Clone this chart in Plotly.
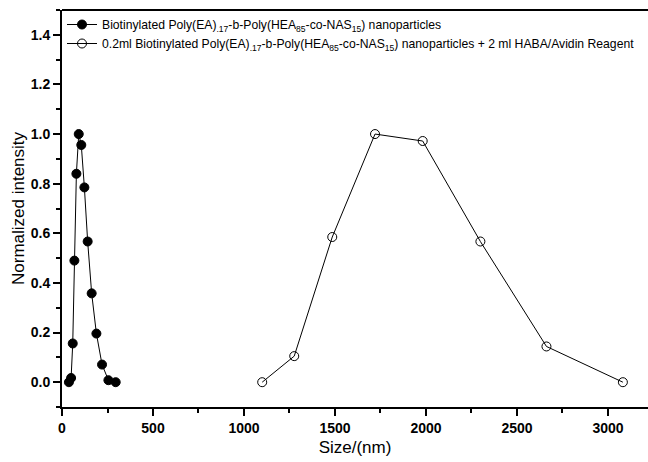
import plotly.graph_objects as go

# Filled series: Biotinylated nanoparticles
size_np = [38, 50, 59, 68, 79, 92, 106, 123, 141, 163, 189, 220, 255, 295]
int_np = [0.0, 0.017, 0.156, 0.49, 0.84, 1.0, 0.956, 0.785, 0.567, 0.358, 0.196, 0.071, 0.008, 0.0]

# Open series: nanoparticles + HABA/Avidin reagent
size_av = [1100, 1276, 1485, 1720, 1982, 2299, 2662, 3082]
int_av = [0.0, 0.105, 0.585, 1.0, 0.972, 0.567, 0.144, 0.0]

name_np = "Biotinylated Poly(EA)<sub>.17</sub>-b-Poly(HEA<sub>85</sub>-co-NAS<sub>15</sub>) nanoparticles"
name_av = ("0.2ml Biotinylated Poly(EA)<sub>.17</sub>-b-Poly(HEA<sub>85</sub>-co-NAS<sub>15</sub>) "
           "nanoparticles + 2 ml HABA/Avidin Reagent")

FONT = "Arial, Liberation Sans, sans-serif"

fig = go.Figure()
fig.add_trace(go.Scatter(
    x=size_np, y=int_np, mode="lines+markers", name=name_np,
    line=dict(color="black", width=1),
    marker=dict(symbol="circle", size=9, color="black", line=dict(color="black", width=1)),
))
fig.add_trace(go.Scatter(
    x=size_av, y=int_av, mode="lines+markers", name=name_av,
    line=dict(color="black", width=1),
    marker=dict(symbol="circle-open", size=9, color="black", line=dict(color="black", width=1)),
))

# top frame line only (no right border, as in the reference)
fig.add_shape(type="line", xref="paper", yref="paper", x0=0, x1=1, y0=1, y1=1,
              line=dict(color="black", width=2))

fig.update_layout(
    width=648, height=462,
    margin=dict(l=62, r=0, t=10, b=55, autoexpand=False),
    paper_bgcolor="white", plot_bgcolor="white",
    font=dict(family=FONT, color="black"),
    showlegend=True,
    legend=dict(x=0.0, y=1.0, xanchor="left", yanchor="top",
                bgcolor="rgba(0,0,0,0)", font=dict(size=12.2, family=FONT),
                tracegroupgap=0, itemwidth=30),
    xaxis=dict(
        range=[0, 3220], showgrid=False, zeroline=False,
        showline=True, linecolor="black", linewidth=2, mirror=False,
        ticks="outside", ticklen=7, tickwidth=1.5, tickcolor="black",
        tickmode="linear", tick0=0, dtick=500,
        minor=dict(ticks="outside", ticklen=4, tickwidth=1.5, tickcolor="black", dtick=250),
        tickfont=dict(size=14, family=FONT, weight="bold"),
        title=dict(text="Size/(nm)", font=dict(size=17, family=FONT), standoff=6),
    ),
    yaxis=dict(
        range=[-0.1, 1.5], showgrid=False, zeroline=False,
        showline=True, linecolor="black", linewidth=2, mirror=False,
        ticks="outside", ticklen=7, tickwidth=1.5, tickcolor="black",
        tickmode="linear", tick0=0, dtick=0.2, tickformat=".1f",
        minor=dict(ticks="outside", ticklen=4, tickwidth=1.5, tickcolor="black", dtick=0.1),
        tickfont=dict(size=14, family=FONT, weight="bold"),
        title=dict(text="Normalized intensity", font=dict(size=17, family=FONT), standoff=2),
    ),
)

fig.write_html(
    "out.html",
    config={"displayModeBar": False},
    post_script="document.body.style.margin='0';document.body.style.overflow='hidden';",
)
